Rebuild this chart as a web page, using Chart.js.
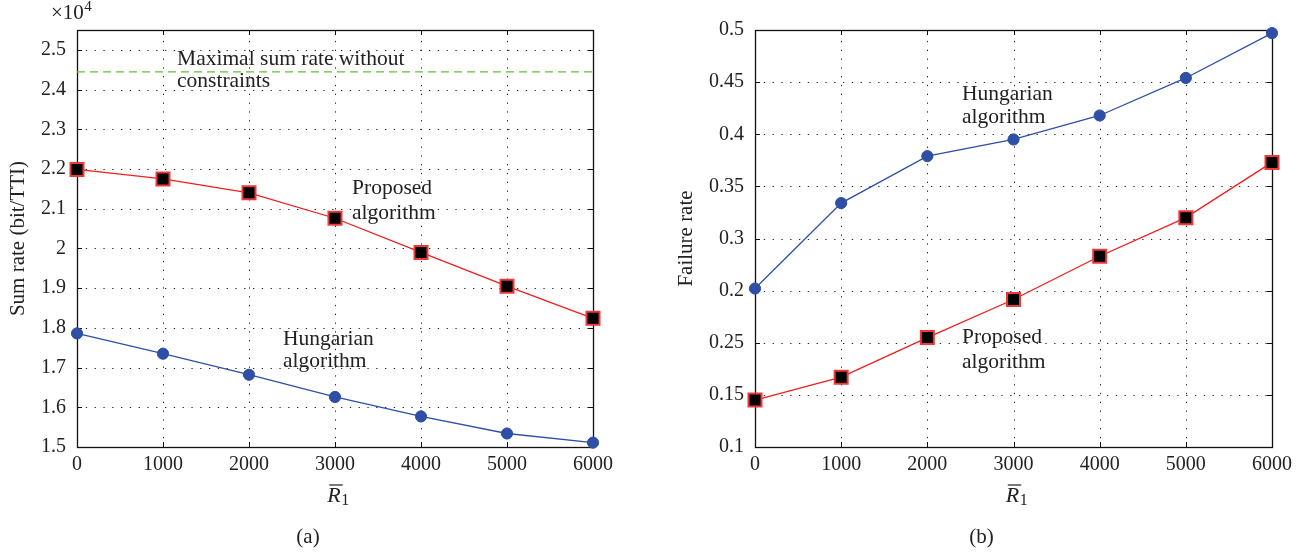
<!DOCTYPE html>
<html><head><meta charset="utf-8">
<script src="https://cdn.jsdelivr.net/npm/chart.js@4"></script>
<style>
html,body{margin:0;padding:0;background:#fff;width:1307px;height:552px;overflow:hidden}
.p{position:absolute;top:0;height:552px}
#wa{left:0;width:660px}
#wb{left:660px;width:647px}
</style></head><body>
<div class="p" id="wa"><canvas id="ca"></canvas></div>
<div class="p" id="wb"><canvas id="cb"></canvas></div>
<script>
// ---- data ----
const rBar = [0, 1000, 2000, 3000, 4000, 5000, 6000];
const xTicks = [0, 1000, 2000, 3000, 4000, 5000, 6000];

// (a) sum rate, bit/TTI
const sumProposed = [21990, 21750, 21400, 20760, 19900, 19050, 18240];
const sumHungarian = [17860, 17350, 16820, 16260, 15770, 15340, 15110];
const sumMaxNoConstraints = 24445;
const sumTicks = [15000, 16000, 17000, 18000, 19000, 20000, 21000, 22000, 23000, 24000, 25000];

// (b) failure rate (positions on the axis)
const failHungarian = [0.252, 0.334, 0.379, 0.395, 0.418, 0.454, 0.497];
const failProposed = [0.145, 0.167, 0.205, 0.2415, 0.283, 0.320, 0.373];
const failTicks = [0.1, 0.15, 0.2, 0.25, 0.3, 0.35, 0.4, 0.45, 0.5];
const failTickLabels = ['0.1', '0.15', '0.25', '0.2', '0.3', '0.35', '0.4', '0.45', '0.5'];

// ---- styles ----
const FONT = "'Liberation Serif', 'DejaVu Serif', serif";
const TXT = '#222';
const RED = '#f21d1d';
const BLUE = '#2f4fa6';

const pts = arr => arr.map((v, i) => ({x: rBar[i], y: v}));

const framePlugin = {
  id: 'frame',
  beforeDatasetsDraw(chart) {
    const {ctx, chartArea: a, scales} = chart;
    const xs = scales.x, ys = scales.y;
    ctx.save();
    // dotted grid
    ctx.strokeStyle = '#222';
    ctx.lineWidth = 1;
    ctx.setLineDash([1.3, 7.5]);
    xs.ticks.forEach(t => {
      const px = Math.round(xs.getPixelForValue(t.value)) + 0.5;
      if (px < a.left + 2 || px > a.right - 2) return;
      ctx.beginPath(); ctx.moveTo(px, a.bottom); ctx.lineTo(px, a.top); ctx.stroke();
    });
    ys.ticks.forEach(t => {
      const py = Math.round(ys.getPixelForValue(t.value)) + 0.5;
      if (py < a.top + 2 || py > a.bottom - 2) return;
      ctx.beginPath(); ctx.moveTo(a.left, py); ctx.lineTo(a.right, py); ctx.stroke();
    });
    ctx.setLineDash([]);
    // inward ticks
    ctx.strokeStyle = '#111';
    const tl = 5;
    xs.ticks.forEach(t => {
      const px = Math.round(xs.getPixelForValue(t.value)) + 0.5;
      ctx.beginPath();
      ctx.moveTo(px, a.bottom); ctx.lineTo(px, a.bottom - tl);
      ctx.moveTo(px, a.top); ctx.lineTo(px, a.top + tl);
      ctx.stroke();
    });
    ys.ticks.forEach(t => {
      const py = Math.round(ys.getPixelForValue(t.value)) + 0.5;
      ctx.beginPath();
      ctx.moveTo(a.left, py); ctx.lineTo(a.left + tl, py);
      ctx.moveTo(a.right, py); ctx.lineTo(a.right - tl, py);
      ctx.stroke();
    });
    // box
    ctx.lineWidth = 1.3;
    ctx.strokeStyle = '#111';
    ctx.strokeRect(Math.round(a.left) + 0.5, Math.round(a.top) + 0.5,
                   Math.round(a.right - a.left), Math.round(a.bottom - a.top));
    ctx.restore();
  },
  afterDraw(chart, args, opts) {
    const {ctx, chartArea: a, scales} = chart;
    const xs = scales.x, ys = scales.y;
    ctx.save();
    ctx.fillStyle = TXT;
    ctx.font = '21.5px ' + FONT;
    ctx.textBaseline = 'alphabetic';
    ctx.textAlign = 'left';
    (opts.notes || []).forEach(n => {
      ctx.fillText(n.text, xs.getPixelForValue(n.x), ys.getPixelForValue(n.y));
    });
    // y title
    ctx.save();
    ctx.font = '21px ' + FONT;
    ctx.translate(a.left - opts.yTitleOffset, (a.top + a.bottom) / 2);
    ctx.rotate(-Math.PI / 2);
    ctx.textAlign = 'center';
    ctx.textBaseline = 'middle';
    ctx.fillText(opts.yTitle, 0, 0);
    ctx.restore();
    // x title: R-bar with subscript 1
    const cx = (a.left + a.right) / 2 + 3;
    ctx.font = 'italic 22px ' + FONT;
    const wR = ctx.measureText('R').width;
    ctx.font = '16px ' + FONT;
    const w1 = ctx.measureText('1').width;
    const x0 = cx - (wR + w1) / 2;
    const base = 502;
    ctx.font = 'italic 22px ' + FONT;
    ctx.fillText('R', x0, base);
    ctx.font = '16px ' + FONT;
    ctx.fillText('1', x0 + wR + 0.5, base + 3);
    ctx.strokeStyle = TXT;
    ctx.lineWidth = 1.2;
    ctx.beginPath();
    ctx.moveTo(x0 + 2, base - 17); ctx.lineTo(x0 + wR + 2, base - 17);
    ctx.stroke();
    // panel label
    ctx.font = '21px ' + FONT;
    ctx.textAlign = 'center';
    ctx.fillText(opts.panel, (a.left + a.right) / 2 + opts.panelOffset, 543);
    // exponent
    if (opts.exponent) {
      ctx.textAlign = 'left';
      ctx.font = '21px ' + FONT;
      ctx.fillText('\u00d710', a.left - 26, 19);
      const w = ctx.measureText('\u00d710').width;
      ctx.font = '15px ' + FONT;
      ctx.fillText('4', a.left - 26 + w + 0.5, 11);
    }
    ctx.restore();
  }
};

function lineDs(data, color, style) {
  const isRect = style === 'rect';
  return {
    data: pts(data),
    borderColor: color,
    borderWidth: 1.3,
    pointStyle: isRect ? 'rect' : 'circle',
    pointRadius: isRect ? 9.2 : 5.6,
    pointHoverRadius: isRect ? 9.2 : 5.6,
    pointBackgroundColor: isRect ? '#000' : BLUE,
    pointBorderColor: isRect ? '#ef3838' : BLUE,
    pointBorderWidth: isRect ? 2 : 1,
    tension: 0,
    clip: false
  };
}

function makeChart(id, cfg) {
  return new Chart(document.getElementById(id), {
    type: 'line',
    data: {datasets: cfg.datasets},
    options: {
      responsive: true,
      maintainAspectRatio: false,
      animation: false,
      events: [],
      layout: {padding: {left: 0, top: 30, right: cfg.padRight, bottom: 65}},
      plugins: {legend: {display: false}, tooltip: {enabled: false}, frame: cfg.frame},
      scales: {
        x: {
          type: 'linear', min: 0, max: 6000,
          afterBuildTicks: s => { s.ticks = xTicks.map(v => ({value: v})); },
          afterFit: s => { s.height = 40; },
          grid: {display: false, drawTicks: false},
          border: {display: false},
          ticks: {color: TXT, font: {family: FONT, size: 20}, padding: 6, maxRotation: 0,
                  callback: v => String(v)}
        },
        y: {
          type: 'linear', min: cfg.yMin, max: cfg.yMax,
          afterBuildTicks: s => { s.ticks = cfg.yTicks.map(v => ({value: v})); },
          afterFit: s => { s.width = cfg.yWidth; },
          grid: {display: false, drawTicks: false},
          border: {display: false},
          ticks: {color: TXT, font: {family: FONT, size: 20}, padding: 11,
                  callback: cfg.yLabel}
        }
      }
    },
    plugins: [framePlugin]
  });
}

makeChart('ca', {
  padRight: 67, yWidth: 77, yMin: 15000, yMax: 25500, yTicks: sumTicks,
  yLabel: v => String(Math.round(v / 1000) / 10),
  datasets: [
    {data: [{x: 0, y: sumMaxNoConstraints}, {x: 6000, y: sumMaxNoConstraints}],
     borderColor: '#5fc236', borderWidth: 1.3, borderDash: [8, 5], pointRadius: 0, clip: false},
    lineDs(sumProposed, RED, 'rect'),
    lineDs(sumHungarian, BLUE, 'circle')
  ],
  frame: {
    yTitle: 'Sum rate (bit/TTI)', yTitleOffset: 59, panel: '(a)', panelOffset: -27, exponent: true,
    notes: [
      {text: 'Maximal sum rate without', x: 1163, y: 24619},
      {text: 'constraints', x: 1163, y: 24065},
      {text: 'Proposed', x: 3198, y: 21371},
      {text: 'algorithm', x: 3198, y: 20741},
      {text: 'Hungarian', x: 2395, y: 17568},
      {text: 'algorithm', x: 2395, y: 17014}
    ]
  }
});

makeChart('cb', {
  padRight: 35, yWidth: 95, yMin: 0.1, yMax: 0.5, yTicks: failTicks,
  yLabel: (v, i) => failTickLabels[i],
  datasets: [
    lineDs(failProposed, RED, 'rect'),
    lineDs(failHungarian, BLUE, 'circle')
  ],
  frame: {
    yTitle: 'Failure rate', yTitleOffset: 69, panel: '(b)', panelOffset: -32, exponent: false,
    notes: [
      {text: 'Hungarian', x: 2402, y: 0.4329},
      {text: 'algorithm', x: 2402, y: 0.4108},
      {text: 'Proposed', x: 2402, y: 0.1997},
      {text: 'algorithm', x: 2402, y: 0.1758}
    ]
  }
});
</script>
</body></html>
